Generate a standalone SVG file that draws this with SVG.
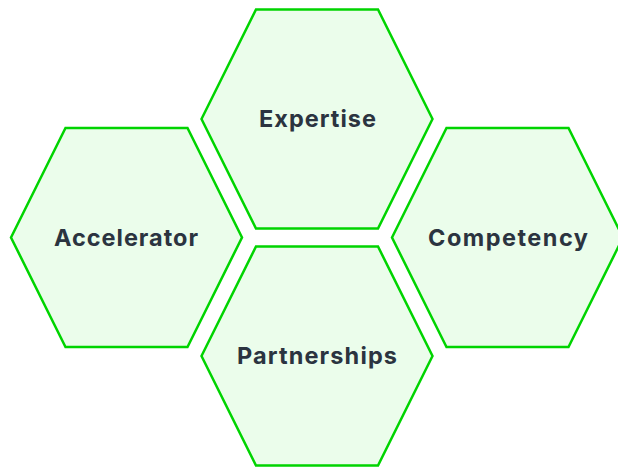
<svg xmlns="http://www.w3.org/2000/svg" width="618" height="467" viewBox="0 0 618 467">
<style>
.hex{fill:#ebfdeb;stroke:#00d400;stroke-width:2.5;stroke-linejoin:miter}
.lbl{font-family:Inter,"Open Sans","Liberation Sans",sans-serif;font-weight:700;font-size:23.5px;fill:#2b3440;text-anchor:middle}
</style>
<defs>
<polygon id="h" points="-115.5,0 -61,-109.5 61,-109.5 115.5,0 61,109.5 -61,109.5"/>
</defs>
<g id="connectors"></g>
<g id="expertise" transform="translate(317,119)">
<use href="#h" class="hex"/>
<text class="lbl" x="0.5" y="8" textLength="117" lengthAdjust="spacing">Expertise</text>
</g>
<g id="accelerator" transform="translate(126.5,237.5)">
<use href="#h" class="hex"/>
<text class="lbl" x="-0.5" y="8" textLength="144" lengthAdjust="spacing">Accelerator</text>
</g>
<g id="competency" transform="translate(507.5,237.5)">
<use href="#h" class="hex"/>
<text class="lbl" x="0.5" y="8" textLength="160" lengthAdjust="spacing">Competency</text>
</g>
<g id="partnerships" transform="translate(317,356)">
<use href="#h" class="hex"/>
<text class="lbl" x="0" y="8" textLength="160" lengthAdjust="spacing">Partnerships</text>
</g>
</svg>
